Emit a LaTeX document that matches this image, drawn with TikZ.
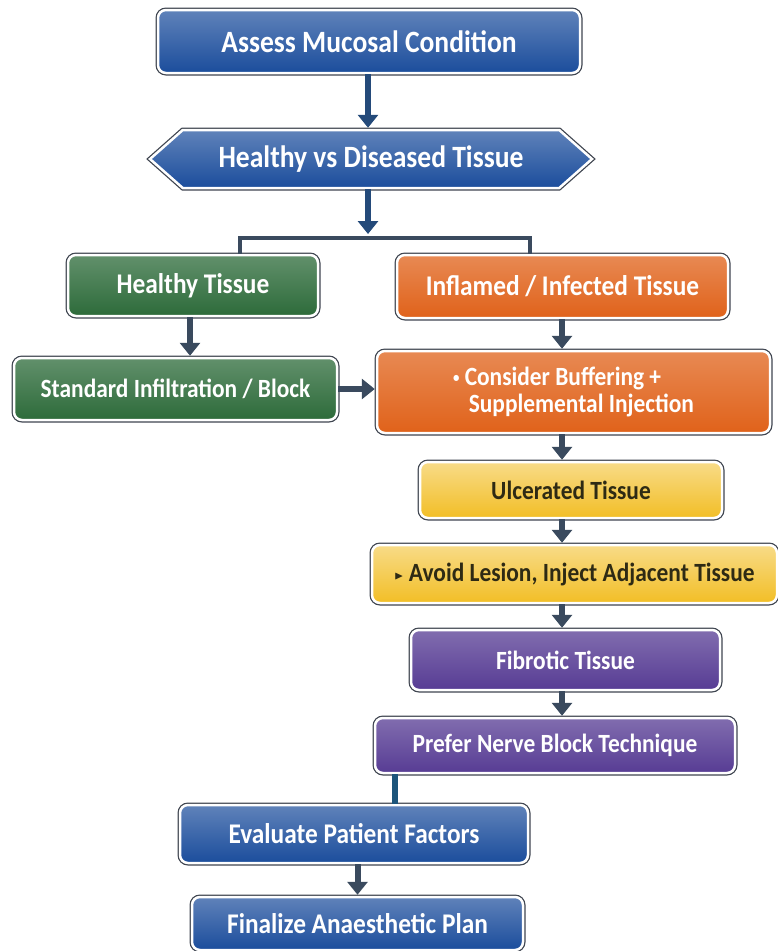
\documentclass[tikz,border=0pt]{standalone}
\usepackage{fontspec}
\usepackage{amssymb}
\usepackage{graphicx}
\usepackage{tikz}
\usetikzlibrary{shapes, shapes.symbols, arrows.meta, positioning}

\newfontfamily\boxfont{Carlito}[FakeStretch=0.89]
\newcommand{\bigtxt}{\boxfont\bfseries\fontsize{31}{34}\selectfont}
\newcommand{\midtxt}{\boxfont\bfseries\fontsize{28.5}{31}\selectfont}
\newcommand{\smalltxt}{\boxfont\bfseries\fontsize{26.3}{30}\selectfont}

\definecolor{boxedge}{HTML}{3F4550}
\definecolor{mucblue}{HTML}{1B4D9C}
\definecolor{mucgreen}{HTML}{2D6B3A}
\definecolor{mucorange}{HTML}{E0621A}
\definecolor{mucyellow}{HTML}{F2BE26}
\definecolor{mucpurple}{HTML}{573C94}
\definecolor{arrnavy}{HTML}{244A7A}
\definecolor{arrslate}{HTML}{3A4A5E}
\definecolor{darktext}{HTML}{2E2A14}

\tikzset{
  tbox/.style={rectangle, rounded corners=8pt, draw=white, line width=2.5pt,
    preaction={draw=boxedge, line width=5pt}, align=center, inner sep=0pt},
  bluebox/.style={tbox, top color=mucblue!70!white, bottom color=mucblue, text=white},
  greenbox/.style={tbox, top color=mucgreen!75!white, bottom color=mucgreen, text=white},
  orangebox/.style={tbox, top color=mucorange!75!white, bottom color=mucorange, text=white},
  yellowbox/.style={tbox, top color=mucyellow!55!white, bottom color=mucyellow, text=darktext},
  purplebox/.style={tbox, top color=mucpurple!75!white, bottom color=mucpurple, text=white},
  arr/.style={line width=6pt, draw=arrslate, -{Triangle[width=20pt,length=13pt]}, shorten >=1pt},
  navyarr/.style={arr, draw=arrnavy},
  bracket/.style={line width=3.5pt, draw=arrslate},
  plainlink/.style={line width=6pt, draw=arrnavy!80!teal}
}

\begin{document}
\begin{tikzpicture}[x=1pt, y=1pt]
  \useasboundingbox (0,0) rectangle (778,-951);
  \fill[white] (0,0) rectangle (778,-951);

  % top of the flow
  \node[bluebox, minimum width=422pt, minimum height=63pt, font=\bigtxt] (assess) at (369,-41.5) {Assess Mucosal Condition};
  \node[bluebox, signal, signal to=west and east, signal pointer angle=83, sharp corners,
    minimum width=442pt, minimum height=58pt, font=\bigtxt] (split) at (371,-159) {Healthy vs Diseased Tissue};

  % the two branches
  \node[greenbox, minimum width=250pt, minimum height=61pt, font=\midtxt] (healthy) at (193,-285.5) {Healthy Tissue};
  \node[orangebox, minimum width=331pt, minimum height=63pt, font=\midtxt] (inflamed) at (562.5,-286.5) {Inflamed / Infected Tissue};
  \node[greenbox, minimum width=323pt, minimum height=62pt, font=\smalltxt] (standard) at (175.5,-389) {Standard Infiltration / Block};
  \node[orangebox, minimum width=393pt, minimum height=82pt, font=\smalltxt, align=left] (consider) at (573.5,-392)
    {\raisebox{3pt}{\scalebox{0.55}{\textbullet}}\ Consider Buffering +\\[-3pt]\hspace{0.6em}Supplemental Injection};

  % right column
  \node[yellowbox, minimum width=302pt, minimum height=56pt, font=\smalltxt] (ulcer) at (571,-490) {Ulcerated Tissue};
  \node[yellowbox, minimum width=405pt, minimum height=58pt, font=\smalltxt] (avoid) at (574.5,-574)
    {\raisebox{2pt}{\scalebox{0.45}{$\blacktriangleright$}}\ Avoid Lesion, Inject Adjacent Tissue};
  \node[purplebox, minimum width=309pt, minimum height=60pt, font=\smalltxt] (fibro) at (565.5,-660) {Fibrotic Tissue};
  \node[purplebox, minimum width=360pt, minimum height=55pt, font=\smalltxt] (prefer) at (555,-745.5) {Prefer Nerve Block Technique};

  % bottom of the flow
  \node[bluebox, minimum width=348pt, minimum height=58pt, font=\midtxt] (evaluate) at (354,-834) {Evaluate Patient Factors};
  \node[bluebox, minimum width=331pt, minimum height=53pt, font=\midtxt] (final) at (357.5,-923.5) {Finalize Anaesthetic Plan};

  \coordinate (fork) at (368,-238);
  \coordinate (lft) at (240,-238);
  \coordinate (rgt) at (530,-238);
  \coordinate (col) at (562,0);
  \coordinate (joint) at (395,0);

  \draw[navyarr] (assess.south -| fork) -- (split.north -| fork);
  \draw[navyarr, shorten >=4pt] (split.south -| fork) -- (fork);
  \draw[bracket] (lft |- healthy.north) -- (lft) -- (rgt) -- (rgt |- inflamed.north);

  \draw[arr] (healthy.south -| 190,0) -- (standard.north -| 190,0);
  \draw[arr] (inflamed.south -| col) -- (consider.north -| col);
  \draw[arr] (standard.east) -- (standard.east -| consider.west);
  \draw[arr] (consider.south -| col) -- (ulcer.north -| col);
  \draw[arr] (ulcer.south -| col) -- (avoid.north -| col);
  \draw[arr] (avoid.south -| col) -- (fibro.north -| col);
  \draw[arr] (fibro.south -| col) -- (prefer.north -| col);
  \draw[plainlink] (prefer.south -| joint) -- (evaluate.north -| joint);
  \draw[arr] (evaluate.south -| final) -- (final.north);
\end{tikzpicture}
\end{document}
